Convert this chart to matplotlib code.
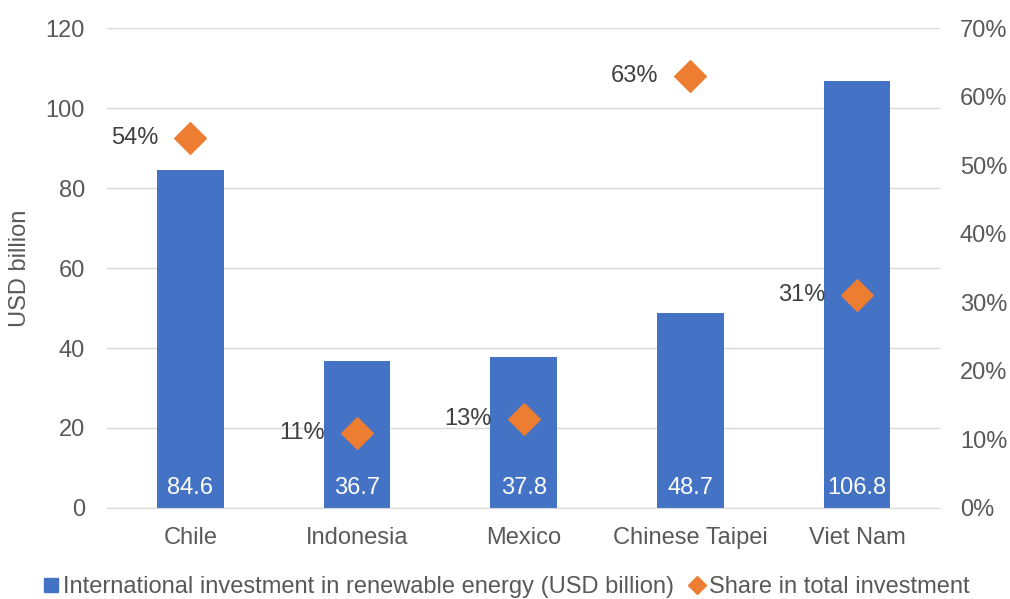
import matplotlib
matplotlib.use("Agg")
import matplotlib.pyplot as plt
from matplotlib.lines import Line2D
from matplotlib.ticker import FuncFormatter

plt.rcParams['font.family'] = ['Liberation Sans', 'DejaVu Sans']

countries = ["Chile", "Indonesia", "Mexico", "Chinese Taipei", "Viet Nam"]
investment = [84.6, 36.7, 37.8, 48.7, 106.8]
share = [54, 11, 13, 63, 31]

blue = "#4472C4"
orange = "#ED7D31"
text_col = "#595959"
grid_col = "#D9D9D9"
fs = 17

fig = plt.figure(figsize=(10.10, 5.99), dpi=100)
ax = fig.add_axes([0.106, 0.152, 0.825, 0.801])
ax2 = ax.twinx()

x = list(range(len(countries)))
ax.bar(x, investment, width=0.4, color=blue, zorder=2)
for xi, v in zip(x, investment):
    ax.annotate(f"{v:.1f}", (xi, 0), xytext=(0, 14.5), textcoords="offset points",
                ha="center", va="center", color="white", fontsize=fs)

ax.set_xlim(-0.5, len(countries) - 0.5)
ax.set_ylim(0, 120)
ax.set_yticks(range(0, 121, 20))
ax.yaxis.grid(True, color=grid_col, linewidth=1)
ax.set_axisbelow(True)
ax.set_xticks(x)
ax.set_xticklabels(countries)

ax2.set_ylim(0, 70)
ax2.set_yticks(range(0, 71, 10))
ax2.yaxis.set_major_formatter(FuncFormatter(lambda v, p: f"{v:.0f}%"))
ax2.scatter(x, share, marker="D", s=260, color=orange, zorder=3)
for xi, s in zip(x, share):
    ax2.annotate(f"{s}%", (xi, s), xytext=(-23, 0), textcoords="offset points",
                 ha="right", va="center", color="#404040", fontsize=fs)

for a in (ax, ax2):
    for sp in a.spines.values():
        sp.set_visible(False)
    a.tick_params(length=0, labelsize=fs, colors=text_col)
ax.tick_params(axis="y", pad=16)
ax2.tick_params(axis="y", pad=14)
ax.tick_params(axis="x", pad=14)
ax.spines["bottom"].set_visible(True)
ax.spines["bottom"].set_color(grid_col)

fig.text(0.02, 0.552, "USD billion", rotation=90, ha="center", va="center",
         color=text_col, fontsize=fs)

handles = [
    Line2D([], [], marker="s", linestyle="none", color=blue, markersize=9.5),
    Line2D([], [], marker="D", linestyle="none", color=orange, markersize=9.5),
]
labels = ["International investment in renewable energy (USD billion)",
          "Share in total investment"]
leg = fig.legend(handles, labels, loc="center", bbox_to_anchor=(0.5, 0.02),
                 ncol=2, frameon=False, fontsize=fs, handletextpad=0.05,
                 columnspacing=0.5, handlelength=0.9)
for t in leg.get_texts():
    t.set_color(text_col)

fig.savefig("out.png", dpi=100)
